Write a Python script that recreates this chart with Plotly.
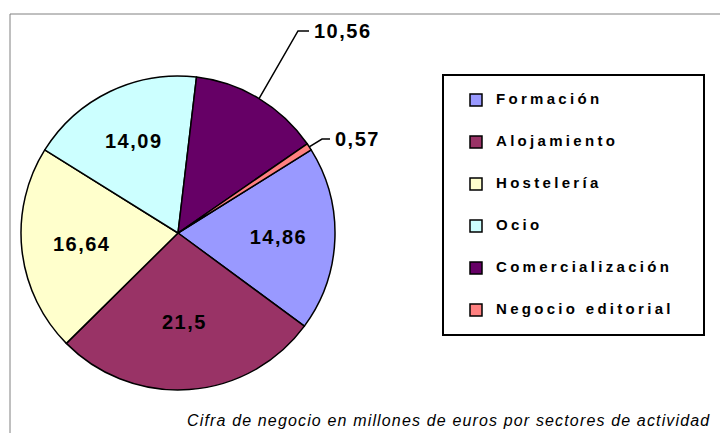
import math
import plotly.graph_objects as go

# ---- data ----
categories = ["Formación", "Alojamiento", "Hostelería", "Ocio",
              "Comercialización", "Negocio editorial"]
values = [14.86, 21.5, 16.64, 14.09, 10.56, 0.57]
colors = ["#9999FF", "#993366", "#FFFFCC", "#CCFFFF", "#660066", "#FF8080"]
outside_labels = ["Comercialización", "Negocio editorial"]
caption = "Cifra de negocio en millones de euros por sectores de actividad"

# ---- layout constants ----
W, H = 720, 433
PIE_LEFT, PIE_RIGHT, PIE_TOP, PIE_BOTTOM = 21, 335, 76, 390
ROTATION = 58
FONT = "Liberation Sans, Arial, sans-serif"
# label anchor (pixels) and elbow offset for the outside labels
label_pos = {"Comercialización": (312, 31, 14), "Negocio editorial": (333, 139, 11)}


def px(x):
    return x / W


def py(y):
    return 1 - y / H


def fmt(v):
    return f"{v:g}".replace(".", ",")


CX = (PIE_LEFT + PIE_RIGHT) / 2
CY = (PIE_TOP + PIE_BOTTOM) / 2
R = min(PIE_RIGHT - PIE_LEFT, PIE_BOTTOM - PIE_TOP) / 2

texts, tpos = [], []
for c, v in zip(categories, values):
    if c in outside_labels:
        texts.append("")
        tpos.append("none")
    else:
        texts.append(f"<span style='letter-spacing:1.5px'>{fmt(v)}</span>")
        tpos.append("inside")

legend_labels = [
    f"<br><span style='font-size:15px;letter-spacing:3.3px'><b>{c}</b></span><br>"
    for c in categories
]

fig = go.Figure()
fig.add_trace(go.Pie(
    labels=legend_labels,
    values=values,
    sort=False,
    direction="clockwise",
    rotation=ROTATION,
    marker=dict(colors=colors, line=dict(color="black", width=1.5)),
    text=texts,
    textinfo="text",
    textposition=tpos,
    insidetextorientation="horizontal",
    textfont=dict(family=FONT, size=20, color="black", weight="bold"),
    domain=dict(x=[px(PIE_LEFT), px(PIE_RIGHT)], y=[py(PIE_BOTTOM), py(PIE_TOP)]),
    hoverinfo="none",
))

shapes = []
annotations = []
total = sum(values)
acc = 0.0
for c, v in zip(categories, values):
    mid = ROTATION + (acc + v / 2) / total * 360
    acc += v
    if c not in outside_labels:
        continue
    a = math.radians(mid)
    ex, ey = CX + R * math.sin(a), CY - R * math.cos(a)
    lx, ly, elbow = label_pos[c]
    shapes.append(dict(
        type="path", xref="paper", yref="paper",
        path=f"M {px(ex)},{py(ey)} L {px(lx - elbow)},{py(ly)} L {px(lx - 3)},{py(ly)}",
        line=dict(color="black", width=1.5),
    ))
    annotations.append(dict(
        x=px(lx), y=py(ly), xref="paper", yref="paper",
        xanchor="left", yanchor="middle", showarrow=False,
        text=f"<span style='letter-spacing:1.5px'>{fmt(v)}</span>",
        font=dict(family=FONT, size=20, color="black", weight="bold"),
    ))

# outer chart border (continues past the right/bottom edge)
shapes.append(dict(type="rect", xref="paper", yref="paper",
                   x0=px(10), y0=py(14), x1=1.05, y1=-0.05,
                   line=dict(color="#808080", width=1), fillcolor="rgba(0,0,0,0)"))
# legend box
shapes.append(dict(type="rect", xref="paper", yref="paper",
                   x0=px(443), y0=py(75), x1=px(704), y1=py(335),
                   line=dict(color="black", width=2), fillcolor="rgba(0,0,0,0)"))

annotations.append(dict(
    x=px(712), y=py(420), xref="paper", yref="paper",
    xanchor="right", yanchor="middle", showarrow=False,
    text=f"<span style='letter-spacing:1.15px'>{caption}</span>",
    font=dict(family=FONT, size=16, color="black", style="italic"),
))

fig.update_layout(
    width=W, height=H,
    margin=dict(l=0, r=0, t=0, b=0),
    paper_bgcolor="white",
    plot_bgcolor="white",
    separators=",.",
    showlegend=True,
    legend=dict(
        x=px(456), y=py(74), xanchor="left", yanchor="top",
        font=dict(family=FONT, size=10, color="black", weight="bold"),
        bgcolor="rgba(0,0,0,0)", borderwidth=0,
    ),
    shapes=shapes,
    annotations=annotations,
)

fig.write_html("out.html", config={"displayModeBar": False},
               post_script="document.body.style.margin='0px';")
